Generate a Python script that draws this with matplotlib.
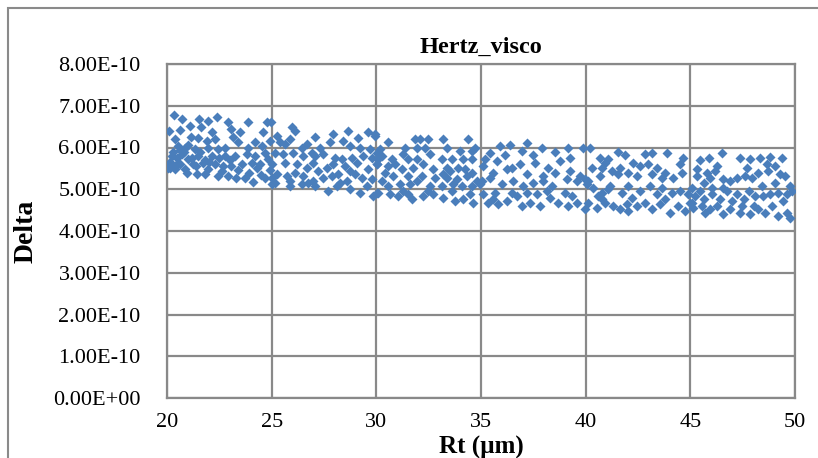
import matplotlib
matplotlib.use("Agg")
import matplotlib.pyplot as plt
from matplotlib.patches import Rectangle
import numpy as np

# Rt (µm) and Delta (x1e-10), grouped by Rt range
rt_20_25 = [20.35, 20.70, 21.52, 21.97, 22.37, 22.93, 23.88, 24.76,
            20.09, 20.62, 21.09, 21.62, 22.13, 23.08, 23.48, 24.20, 24.60,
            20.38, 21.17, 21.49, 21.89, 22.29, 23.16, 23.40, 24.92,
            20.54, 20.86, 21.33, 21.97, 22.45, 22.77, 23.88, 24.52,
            20.22, 20.70, 21.01, 21.49, 22.13, 22.77, 23.24, 23.80, 24.20, 24.68,
            20.14, 20.54, 20.86, 21.25, 21.73, 22.29, 22.69, 23.08, 23.56, 24.04, 24.44, 24.84,
            20.38, 20.94, 21.41, 21.81, 22.45, 22.93, 23.32, 23.72, 24.12, 24.68, 25.00,
            20.06, 20.62, 21.97, 22.61,
            20.30, 20.50, 20.80, 21.00, 20.20, 20.45, 21.20, 21.40, 20.60, 20.15,
            21.60, 21.80, 22.00, 22.50, 23.00, 23.40, 24.30, 24.90, 24.50, 23.90]
delta_20_25 = [6.78, 6.68, 6.68, 6.64, 6.72, 6.62, 6.60, 6.60,
               6.40, 6.42, 6.52, 6.50, 6.36, 6.44, 6.36, 6.12, 6.36,
               6.20, 6.24, 6.22, 6.16, 6.20, 6.24, 6.12, 6.16,
               6.04, 6.00, 5.96, 5.98, 5.96, 6.00, 6.00, 6.04,
               5.80, 5.84, 5.72, 5.80, 5.80, 5.80, 5.80, 5.84, 5.80, 5.88,
               5.52, 5.64, 5.48, 5.60, 5.64, 5.60, 5.56, 5.56, 5.60, 5.64, 5.60, 5.72,
               5.48, 5.40, 5.36, 5.36, 5.32, 5.32, 5.28, 5.28, 5.18, 5.28, 5.12,
               5.50, 5.60, 5.48, 5.44,
               5.90, 5.75, 5.90, 6.05, 5.60, 5.55, 5.75, 5.55, 5.95, 5.65,
               5.90, 5.70, 5.65, 5.75, 5.70, 5.45, 5.50, 5.45, 5.35, 5.40]

rt_25_30 = [25.96, 26.11, 27.07, 27.95, 28.66, 29.14, 29.62, 29.94, 25.24, 24.95,
            25.40, 25.64, 25.88, 26.43, 26.67, 27.31, 27.79, 28.42, 28.74, 29.22, 29.70,
            25.16, 25.56, 26.03, 26.51, 26.91, 27.07, 27.47, 28.03, 28.34, 28.82, 29.38, 29.78, 30.02,
            25.00, 25.64, 26.19, 26.67, 26.99, 27.63, 27.95, 28.50, 29.06, 29.62, 30.02,
            25.24, 25.72, 26.11, 26.51, 26.99, 27.47, 27.87, 28.18, 28.58, 28.98, 29.30, 29.78,
            25.16, 25.88, 26.43, 27.07, 27.71, 28.10, 28.74, 29.22, 29.86, 30.02,
            25.88, 26.75, 28.26, 29.54, 27.23, 28.74, 25.00]
delta_25_30 = [6.48, 6.40, 6.26, 6.32, 6.40, 6.22, 6.36, 6.28, 6.28, 6.60,
               6.12, 6.08, 6.20, 6.00, 6.08, 6.00, 6.12, 6.16, 6.04, 6.00, 5.96,
               5.88, 5.84, 5.88, 5.80, 5.88, 5.80, 5.84, 5.76, 5.72, 5.76, 5.80, 5.76, 5.88,
               5.60, 5.64, 5.60, 5.52, 5.64, 5.52, 5.60, 5.56, 5.64, 5.48, 5.60,
               5.36, 5.32, 5.40, 5.32, 5.20, 5.28, 5.32, 5.36, 5.20, 5.36, 5.28, 5.24,
               5.16, 5.08, 5.12, 5.08, 4.96, 5.08, 5.00, 4.92, 4.84, 4.92,
               5.20, 5.16, 5.16, 5.08, 5.44, 5.44, 5.28]

rt_30_35 = [29.94, 30.58, 31.85, 32.09, 32.49, 33.20, 34.40, 34.72, 31.93, 32.33, 31.37, 33.36, 34.00, 34.56,
            30.18, 30.26, 30.74, 31.29, 31.53, 31.93, 32.57, 33.12, 33.60, 34.16, 34.56, 30.10, 33.36,
            30.02, 30.58, 30.90, 31.21, 31.77, 32.25, 32.73, 33.20, 33.52, 33.92, 34.24, 34.56,
            30.42, 30.82, 31.53, 32.17, 32.81, 33.36, 33.84, 34.32, 34.80,
            30.26, 30.58, 31.13, 31.61, 31.93, 32.57, 33.12, 33.68, 34.08, 34.56, 34.96,
            30.10, 30.66, 31.05, 31.53, 31.69, 32.25, 32.73, 33.20, 33.76, 34.16, 34.64,
            32.49, 33.60, 31.29, 34.48]
delta_30_35 = [6.32, 6.14, 6.20, 6.20, 6.20, 6.20, 6.20, 6.00, 6.00, 6.00, 6.00, 6.00, 5.92, 5.92,
               5.96, 5.80, 5.72, 5.84, 5.72, 5.72, 5.84, 5.72, 5.72, 5.72, 5.72, 5.72, 5.52,
               5.60, 5.56, 5.60, 5.48, 5.52, 5.60, 5.48, 5.36, 5.44, 5.52, 5.48, 5.40,
               5.40, 5.32, 5.32, 5.32, 5.28, 5.28, 5.24, 5.32, 5.20,
               5.20, 5.08, 5.12, 5.12, 5.20, 5.08, 5.08, 5.12, 5.08, 5.08, 5.12,
               4.92, 4.88, 4.84, 4.88, 4.76, 4.84, 4.88, 4.80, 4.72, 4.76, 4.68,
               4.96, 4.96, 4.96, 4.88]

rt_35_40 = [35.91, 36.38, 37.18, 37.90, 36.94, 39.17, 39.89, 35.43, 36.14, 38.53, 37.50,
            35.19, 35.75, 36.46, 36.86, 37.58, 38.21, 38.77, 39.25, 35.59, 36.22, 37.18, 37.98,
            38.53, 39.25, 39.73, 35.11,
            35.03, 35.43, 35.99, 36.54, 37.02, 37.50, 37.98, 38.37, 39.09, 39.57, 39.97, 35.11, 35.67,
            35.35, 35.83, 36.22, 36.70, 36.94, 37.34, 37.82, 38.29, 38.69, 39.17, 39.57, 39.97,
            35.59, 36.46, 37.66, 39.01, 38.13, 37.18, 39.33]
delta_35_40 = [6.04, 6.06, 6.10, 6.00, 5.92, 6.00, 6.00, 5.88, 5.82, 5.90, 5.82,
               5.72, 5.68, 5.52, 5.60, 5.64, 5.52, 5.68, 5.76, 5.40, 5.48, 5.36, 5.32,
               5.40, 5.44, 5.32, 5.56,
               5.20, 5.28, 5.12, 5.20, 5.08, 5.16, 5.20, 5.08, 5.24, 5.20, 5.24, 4.88, 4.92,
               4.68, 4.64, 4.72, 4.84, 4.60, 4.68, 4.60, 4.80, 4.68, 4.60, 4.68, 4.52,
               4.76, 4.92, 4.88, 4.92, 4.96, 4.92, 4.84]

rt_40_45 = [40.21, 41.56, 41.88, 43.15, 43.87, 42.84, 40.69, 41.08, 42.28, 44.67,
            40.29, 40.77, 41.24, 41.64, 42.04, 42.60, 43.00, 43.39, 43.79, 44.51, 44.19,
            40.13, 40.69, 41.16, 41.56, 42.44, 43.15, 43.63, 44.59, 40.93,
            40.05, 40.37, 40.77, 41.08, 41.72, 42.04, 42.60, 43.08, 43.63, 44.11, 44.51, 44.91,
            40.61, 42.20, 43.39,
            40.13, 40.53, 40.93, 41.32, 41.64, 41.96, 42.44, 42.84, 43.15, 43.55, 44.03, 44.43,
            44.75, 45.07, 40.77, 43.79, 42.04]
delta_40_45 = [6.00, 5.90, 5.82, 5.88, 5.88, 5.84, 5.74, 5.72, 5.64, 5.76,
               5.52, 5.52, 5.44, 5.52, 5.40, 5.56, 5.60, 5.52, 5.40, 5.60, 5.28,
               5.20, 5.32, 5.08, 5.36, 5.32, 5.36, 5.28, 5.40, 5.64,
               5.12, 5.04, 4.92, 5.00, 4.92, 5.08, 4.96, 5.08, 5.04, 4.92, 4.96, 4.88,
               4.84, 4.80, 4.88,
               4.68, 4.56, 4.68, 4.60, 4.52, 4.64, 4.60, 4.68, 4.52, 4.64, 4.44, 4.60,
               4.48, 4.68, 4.76, 4.76, 4.48]

rt_45_50 = [46.50, 45.87, 45.47, 47.38, 47.86, 48.33, 48.81, 49.37, 46.26, 47.70, 45.31, 48.65, 49.05, 48.25,
            45.31, 45.79, 45.95, 46.58, 47.22, 47.62, 48.73, 49.29, 49.53, 46.18, 45.63, 46.90,
            47.94, 48.41, 49.77, 45.07, 49.05, 46.58, 46.03,
            45.23, 45.63, 46.03, 46.42, 46.74, 47.22, 47.54, 48.10, 48.81, 49.21, 49.61, 49.85,
            45.47, 46.98, 47.78, 48.49, 49.45,
            45.15, 45.71, 45.95, 46.58, 46.90, 47.38, 47.86, 48.25, 48.57, 49.21, 49.61, 49.77,
            46.26, 48.89, 48.02, 44.99, 47.46, 45.55]
delta_45_50 = [5.88, 5.76, 5.70, 5.76, 5.72, 5.74, 5.78, 5.74, 5.56, 5.52, 5.48, 5.60, 5.56, 5.40,
               5.32, 5.40, 5.28, 5.24, 5.28, 5.32, 5.44, 5.36, 5.32, 5.44, 5.16, 5.20,
               5.28, 5.08, 5.08, 5.04, 5.16, 5.04, 5.04,
               4.84, 4.76, 4.88, 4.76, 4.96, 4.88, 4.76, 4.84, 4.88, 4.92, 4.88, 4.96,
               4.96, 4.72, 4.96, 4.84, 4.72,
               4.56, 4.44, 4.52, 4.40, 4.52, 4.44, 4.40, 4.52, 4.44, 4.36, 4.44, 4.32,
               4.60, 4.60, 4.60, 4.68, 4.60, 4.60]

x_ticks = [20, 25, 30, 35, 40, 45, 50]
y_ticks = [0, 1e-10, 2e-10, 3e-10, 4e-10, 5e-10, 6e-10, 7e-10, 8e-10]
y_tick_labels = ["0.00E+00", "1.00E-10", "2.00E-10", "3.00E-10", "4.00E-10",
                 "5.00E-10", "6.00E-10", "7.00E-10", "8.00E-10"]

rt = np.array(rt_20_25 + rt_25_30 + rt_30_35 + rt_35_40 + rt_40_45 + rt_45_50)
delta = np.array(delta_20_25 + delta_25_30 + delta_30_35 + delta_35_40 + delta_40_45 + delta_45_50) * 1e-10

plt.rcParams['font.family'] = ['Liberation Serif', 'DejaVu Serif']

fig = plt.figure(figsize=(8.18, 4.58), dpi=100)
ax = fig.add_axes([167/818, 1 - 398/458, (795-167)/818, (398-64)/458])

grid_c = '#898989'
ax.scatter(rt, delta, marker='D', s=26, color='#4A7EBB', linewidths=0, zorder=3)

ax.set_xlim(20, 50)
ax.set_ylim(0, 8e-10)
ax.set_xticks(x_ticks)
ax.set_yticks(y_ticks)
ax.set_yticklabels(y_tick_labels)
ax.grid(True, color=grid_c, linewidth=1.6)
ax.set_axisbelow(True)
for sp in ax.spines.values():
    sp.set_color(grid_c)
    sp.set_linewidth(1.6)
ax.tick_params(length=0, labelsize=16, pad=19, colors='black')
ax.tick_params(axis='x', pad=11)

ax.set_title("Hertz_visco", fontsize=17.5, fontweight='bold', pad=8)
ax.set_xlabel("Rt (µm)", fontsize=18, fontweight='bold')
ax.xaxis.set_label_coords(0.5, -0.113)
ax.set_ylabel("Delta", fontsize=20, fontweight='bold')
ax.yaxis.set_label_coords(-0.204, 0.5)

fig.patches.append(Rectangle((8/818, -0.5), 2, 1.5 - 8/458, transform=fig.transFigure,
                             fill=False, edgecolor='#8a8a8a', linewidth=1.5))

fig.savefig("out.png", dpi=100)
